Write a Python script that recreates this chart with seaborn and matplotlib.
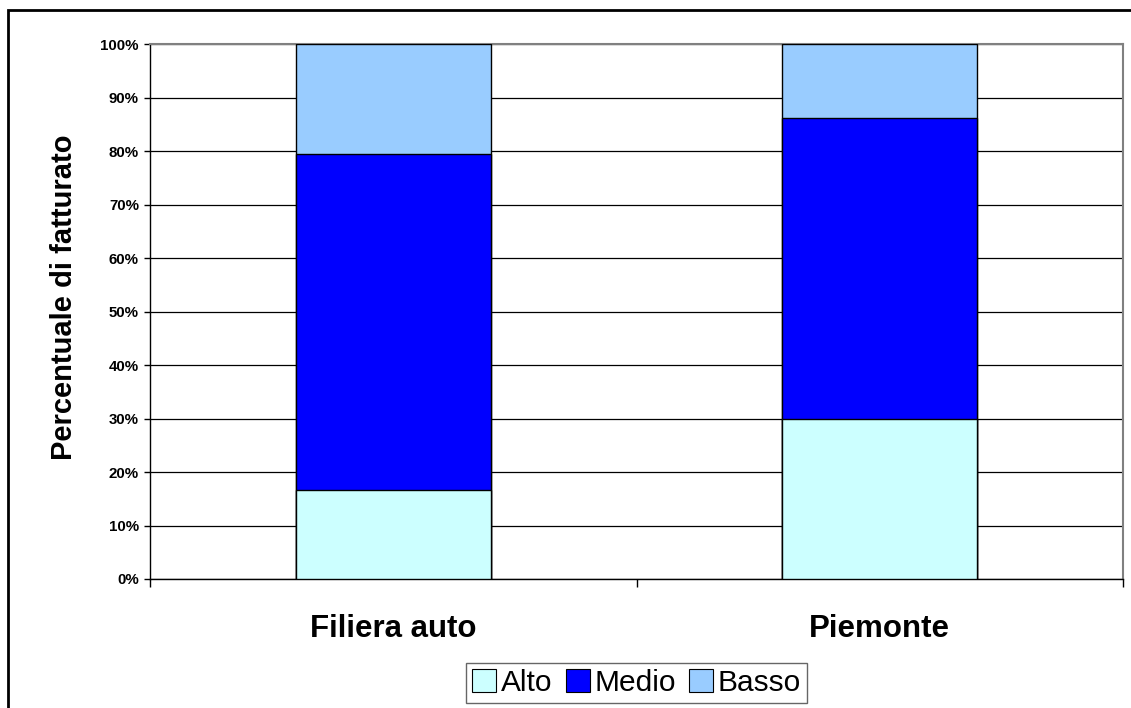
import matplotlib
matplotlib.use("Agg")
import matplotlib.pyplot as plt
import seaborn as sns
import pandas as pd
import numpy as np
from matplotlib.patches import Rectangle, Patch
from matplotlib.ticker import FixedLocator, PercentFormatter

categories = ["Filiera auto", "Piemonte"]
alto = [16.7, 30.0]
medio = [62.7, 56.1]
basso = [20.6, 13.9]
series_names = ["Alto", "Medio", "Basso"]
colors = {"Alto": "#CCFFFF", "Medio": "#0000FF", "Basso": "#99CCFF"}

sns.set_theme(style="white")
plt.rcParams["font.family"] = ["Liberation Sans", "DejaVu Sans"]
plt.rcParams["text.color"] = "black"
plt.rcParams["axes.labelcolor"] = "black"
plt.rcParams["xtick.color"] = "black"
plt.rcParams["ytick.color"] = "black"

W, H = 1131, 708
fig = plt.figure(figsize=(W / 100, H / 100), dpi=100)
ax = fig.add_axes([150 / W, 1 - 579 / H, (1123 - 150) / W, (579 - 44) / H])

df = pd.DataFrame({"cat": categories, "Alto": alto, "Medio": medio, "Basso": basso})
df["c_alto"] = df["Alto"]
df["c_medio"] = df["Alto"] + df["Medio"]
df["c_basso"] = df["Alto"] + df["Medio"] + df["Basso"]

ax.set_axisbelow(True)
ax.yaxis.grid(True, color="black", linewidth=0.9)
ax.xaxis.grid(False)

for col, name in [("c_basso", "Basso"), ("c_medio", "Medio"), ("c_alto", "Alto")]:
    sns.barplot(data=df, x="cat", y=col, color=colors[name], saturation=1,
                width=0.4, edgecolor="black", linewidth=1.0, ax=ax, zorder=3)

ax.set_xlim(-0.5, 1.5)
ax.set_ylim(0, 100)
ax.yaxis.set_major_locator(FixedLocator(np.arange(0, 101, 10)))
ax.yaxis.set_major_formatter(PercentFormatter(decimals=0))
ax.set_xticks([0, 1])
ax.set_xticklabels(categories)
ax.xaxis.set_minor_locator(FixedLocator([-0.5, 0.5, 1.5]))
ax.tick_params(axis="x", which="major", length=0, pad=25, labelsize=22.5, labelcolor="black")
ax.tick_params(axis="x", which="minor", length=6, width=1, color="black", direction="out", bottom=True)
ax.tick_params(axis="y", which="major", length=4, width=1, color="black", direction="out", left=True,
               labelsize=10.8, pad=4, labelcolor="black")
for lab in ax.get_xticklabels() + ax.get_yticklabels():
    lab.set_fontweight("bold")

ax.set_xlabel("")
ax.set_ylabel("Percentuale di fatturato", fontsize=21, fontweight="bold", color="black")
ax.yaxis.set_label_coords((78 - 150) / 973, (579 - 297.5) / 535)

for s in ["left", "bottom"]:
    ax.spines[s].set_color("black")
    ax.spines[s].set_linewidth(1)
for s in ["top", "right"]:
    ax.spines[s].set_color("#808080")
    ax.spines[s].set_linewidth(1.5)

handles = [Patch(facecolor=colors[n], edgecolor="black", linewidth=0.8, label=n) for n in series_names]
leg = fig.legend(handles=handles, loc="center", bbox_to_anchor=(636.5 / W, 1 - 683 / H), ncol=3,
                 frameon=True, fancybox=False, edgecolor="#404040", fontsize=21.5,
                 handlelength=0.8, handleheight=0.8, handletextpad=0.15, columnspacing=0.45,
                 borderpad=0.2)
leg.get_frame().set_linewidth(1.0)
for t in leg.get_texts():
    t.set_color("black")

fig.patches.append(Rectangle((8 / W, -0.1), 1.2, (1 - 10 / H) + 0.1, transform=fig.transFigure,
                             fill=False, edgecolor="black", linewidth=2))

fig.savefig("out.png", dpi=100)
